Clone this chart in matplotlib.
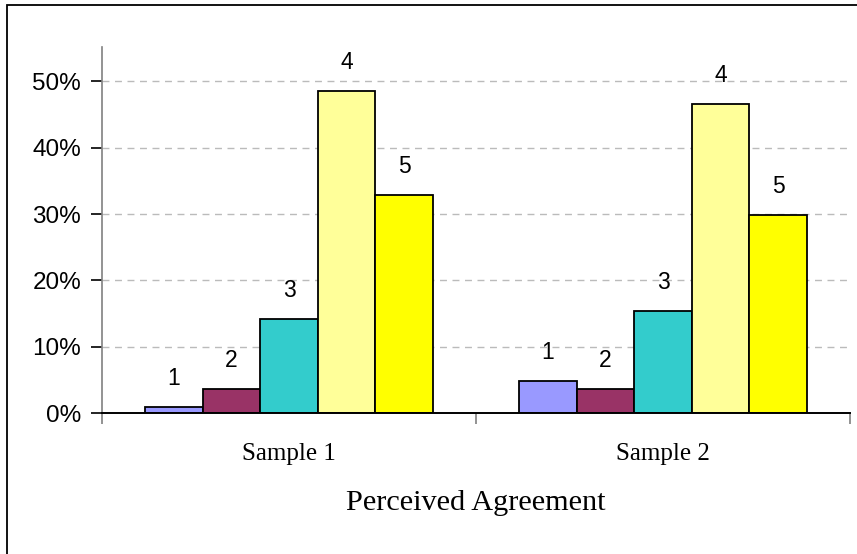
import matplotlib
matplotlib.use("Agg")
import matplotlib.pyplot as plt
from matplotlib.patches import Rectangle
from matplotlib.ticker import FuncFormatter
import numpy as np

categories = ["Sample 1", "Sample 2"]
series_names = ["1", "2", "3", "4", "5"]
values = {
    "1": [0.009, 0.049],
    "2": [0.036, 0.036],
    "3": [0.142, 0.154],
    "4": [0.486, 0.466],
    "5": [0.329, 0.299],
}
colors = ["#9999FF", "#993366", "#33CCCC", "#FFFF99", "#FFFF00"]
yticks = [0, 0.1, 0.2, 0.3, 0.4, 0.5]
xlabel = "Perceived Agreement"

W, H = 857, 554
fig = plt.figure(figsize=(W / 100, H / 100), dpi=100)
fig.patch.set_facecolor("white")

# outer chart frame
fig.add_artist(Rectangle((7.5 / W, -0.1), 1.2, (H - 5) / H + 0.1,
                         transform=fig.transFigure, fill=False,
                         edgecolor="black", linewidth=1.3))

ax = fig.add_axes([102 / W, (H - 413) / H, (850 - 102) / W, (413 - 47) / H])

n = len(series_names)
group_frac = 0.77
bw = group_frac / n
x = np.arange(len(categories)) + 0.5
for i, s in enumerate(series_names):
    xs = x - group_frac / 2 + bw * (i + 0.5)
    ax.bar(xs, values[s], width=bw, color=colors[i], edgecolor="black",
           linewidth=1.3, zorder=3)
    for xi, v in zip(xs, values[s]):
        ax.annotate(s, (xi, v), xytext=(0, 12), textcoords="offset points",
                    ha="center", va="bottom", fontsize=16.5,
                    family="Liberation Sans", zorder=4)

ax.set_xlim(0, len(categories))
ax.set_ylim(0, 0.552)
ax.set_yticks(yticks)
ax.yaxis.set_major_formatter(FuncFormatter(lambda v, p: f"{v*100:.0f}%"))
for t in ax.get_yticklabels():
    t.set_family("Liberation Sans")
    t.set_fontsize(17.5)
ax.tick_params(axis="y", direction="out", length=8, width=1.2, color="black", pad=7)

ax.set_xticks([0, 1, 2])
ax.set_xticklabels([])
ax.tick_params(axis="x", direction="out", length=8, width=1.2, color="#808080")
for xi, c in zip(x, categories):
    ax.text(xi, -0.062, c, ha="center", va="center", fontsize=18,
            family="Liberation Serif", transform=ax.transData)

ax.grid(axis="y", linestyle=(0, (5, 4)), color="#BBBBBB", linewidth=1, zorder=0)
ax.set_axisbelow(True)

for sp in ["top", "right"]:
    ax.spines[sp].set_visible(False)
ax.spines["left"].set_color("#808080")
ax.spines["left"].set_linewidth(1.2)
ax.spines["bottom"].set_color("black")
ax.spines["bottom"].set_linewidth(1.4)
ax.spines["bottom"].set_zorder(5)

fig.text(476 / W, 1 - 503 / H, xlabel, ha="center", va="center",
         fontsize=21.8, family="Liberation Serif")

fig.savefig("out.png", dpi=100)
